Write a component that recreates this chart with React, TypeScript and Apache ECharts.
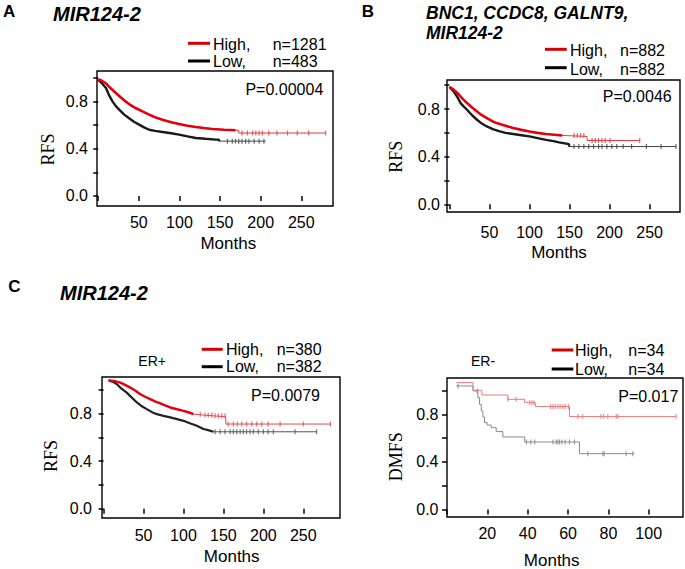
import React, { useEffect, useRef } from "react";
import * as echarts from "echarts";

// ---------- Panel A: MIR124-2 (RFS) ----------
const aHighT = [0, 5, 9.5, 15, 21.7, 28, 34, 40, 46, 55, 62.7, 70, 79, 90, 99.5, 110, 120, 130, 140.5, 155, 169, 173, 173, 280];
const aHighS = [0.99, 0.975, 0.955, 0.915, 0.874, 0.835, 0.8, 0.77, 0.746, 0.715, 0.69, 0.668, 0.647, 0.626, 0.61, 0.596, 0.585, 0.576, 0.568, 0.562, 0.557, 0.557, 0.534, 0.534];
const aLowT = [0, 4, 9.5, 13, 17.7, 22, 25.8, 32, 38, 44, 50.4, 57, 62.7, 70, 79, 90, 99.5, 110, 120, 132, 144.6, 148.6, 148.6, 206];
const aLowS = [0.985, 0.96, 0.916, 0.86, 0.8, 0.76, 0.732, 0.69, 0.66, 0.63, 0.605, 0.58, 0.562, 0.552, 0.543, 0.532, 0.52, 0.505, 0.492, 0.485, 0.478, 0.478, 0.465, 0.465];
const aHighCens = [177, 183.5, 190, 194, 198, 202, 210, 220, 233, 245, 259, 280];
const aLowCens = [159, 165, 169, 173, 177, 181.5, 185.5, 192, 198, 204];

// ---------- Panel B: BNC1, CCDC8, GALNT9, MIR124-2 (RFS) ----------
const bHighT = [0, 5, 9.9, 16, 22, 28, 34.5, 40, 46.8, 53, 59, 70, 79.7, 90, 100, 110, 120.7, 141, 172, 172, 238];
const bHighS = [0.985, 0.965, 0.935, 0.89, 0.85, 0.815, 0.78, 0.75, 0.724, 0.7, 0.682, 0.66, 0.64, 0.625, 0.612, 0.6, 0.59, 0.578, 0.57, 0.536, 0.536];
const bLowT = [0, 5, 10, 14, 18, 22, 28, 34.5, 40, 46.8, 55, 63, 70, 79.7, 90, 100, 110, 120.7, 130, 137, 149.4, 149.4, 283];
const bLowS = [0.985, 0.95, 0.9, 0.85, 0.82, 0.794, 0.75, 0.71, 0.68, 0.654, 0.63, 0.612, 0.6, 0.59, 0.58, 0.57, 0.556, 0.541, 0.53, 0.52, 0.505, 0.485, 0.485];
const bHighCens = [155.6, 159.7, 163.8, 167.9, 178.2, 182.3, 186.3, 190.5, 194.6, 200.7, 237.7];
const bLowCens = [155.6, 161.7, 167.9, 174, 180, 186.3, 190.5, 196.7, 202.8, 209, 217, 227.5, 246, 264.4, 283];

// ---------- Panel C: MIR124-2, ER+ (RFS) ----------
const cHighT = [6.3, 15, 21, 27, 33.4, 40, 46, 52, 58.4, 65, 71, 77, 83.4, 92, 100, 106, 112.5, 125, 137.5, 153, 153, 284];
const cHighS = [1.078, 1.07, 1.059, 1.04, 1.017, 0.99, 0.961, 0.94, 0.92, 0.9, 0.884, 0.867, 0.85, 0.835, 0.822, 0.81, 0.794, 0.786, 0.78, 0.772, 0.711, 0.711];
const cLowT = [6.3, 12, 16.7, 22, 29, 35, 41.7, 48, 54, 60, 66.7, 75, 83.4, 92, 100, 108, 116.7, 125, 131, 137.5, 267];
const cLowS = [1.078, 1.065, 1.045, 1.01, 0.975, 0.935, 0.892, 0.86, 0.836, 0.813, 0.794, 0.78, 0.767, 0.752, 0.738, 0.718, 0.697, 0.669, 0.66, 0.646, 0.646];
const cHighCens = [121, 127, 131, 135.5, 139.6, 143.8, 148, 152, 156, 162.5, 167.5, 173, 179, 185.5, 191.7, 198, 206, 221, 250, 284];
const cLowCens = [139.6, 146, 152, 158.4, 162.5, 166.7, 171, 175, 179, 183.4, 187.5, 193.7, 200, 206, 212.5, 239.6, 266.7];

// ---------- Panel D: MIR124-2, ER- (DMFS) ----------
const dHighT = [4.6, 12.9, 17.3, 30.2, 38.5, 43.8, 60.7, 113.6];
const dHighS = [1.066, 1.002, 0.962, 0.926, 0.898, 0.865, 0.781, 0.781];
const dLowT = [4.6, 12.9, 15.3, 16.1, 17, 17.8, 18.6, 19.9, 21.9, 24.4, 27.7, 38.5, 65.7, 92.9];
const dLowS = [1.038, 0.996, 0.94, 0.884, 0.828, 0.778, 0.73, 0.71, 0.688, 0.655, 0.61, 0.568, 0.47, 0.47];
const dHighCens = [30.2, 34.3, 41, 42.1, 43.1, 51.3, 52.5, 53.7, 55, 56.1, 57.4, 58.6, 60.2, 64.9, 67.3, 76.4, 77.7, 79.7, 83.9, 84.7, 113.6];
const dLowCens = [5.5, 15, 39.4, 41.5, 43.5, 52.5, 54.2, 55, 55.8, 57, 58.6, 60.7, 63.2, 69.8, 77.2, 78, 88.8, 92.1];

// ---------- ticks / labels ----------
const yTickValues = [0, 0.2, 0.4, 0.6, 0.8, 1.0];
const yLabelValues = [0, 0.4, 0.8];
const monthTicks = [0, 50, 100, 150, 200, 250];
const monthLabels = [50, 100, 150, 200, 250];
const erNegTicks = [0, 20, 40, 60, 80, 100];
const erNegLabels = [20, 40, 60, 80, 100];

const SANS = '"Liberation Sans", Arial, Helvetica, sans-serif';
const SERIF = '"Liberation Serif", "Times New Roman", serif';

const pairs = (t: number[], s: number[]) => t.map((x, i) => [x, s[i]]);
const stepAt = (t: number[], s: number[], x: number) => {
  let v = s[0];
  for (let i = 0; i < t.length; i++) if (t[i] <= x) v = s[i];
  return v;
};

type Curve = {
  t: number[];
  s: number[];
  cens: number[];
  thickEnd: number;
  color: string;
  thin: string;
  thickW: number;
  step: boolean;
};

function curveSeries(idx: number, c: Curve) {
  const out: any[] = [];
  out.push({
    type: "line",
    xAxisIndex: idx,
    yAxisIndex: idx,
    data: pairs(c.t, c.s),
    step: c.step ? "end" : false,
    symbol: "none",
    lineStyle: { color: c.thin, width: 1 },
    silent: true,
    z: 2,
  });
  if (c.thickEnd > 0) {
    const tt = c.t.filter((x) => x <= c.thickEnd);
    out.push({
      type: "line",
      xAxisIndex: idx,
      yAxisIndex: idx,
      data: pairs(tt, c.s.slice(0, tt.length)),
      step: c.step ? "end" : false,
      symbol: "none",
      lineStyle: { color: c.color, width: c.thickW },
      silent: true,
      z: 3,
    });
  }
  out.push({
    type: "scatter",
    xAxisIndex: idx,
    yAxisIndex: idx,
    data: c.cens.map((x) => [x, stepAt(c.t, c.s, x)]),
    symbol: "rect",
    symbolSize: [1.2, 5],
    itemStyle: { color: c.thin },
    silent: true,
    z: 4,
  });
  return out;
}

const grids = [
  { left: 97, top: 71, width: 236, height: 135 },
  { left: 447, top: 80, width: 233, height: 132 },
  { left: 102, top: 377, width: 238, height: 141 },
  { left: 447, top: 378, width: 236, height: 139 },
];
const xRanges = [
  [-1.5, 289],
  [-3, 288],
  [-2, 296],
  [0, 117],
];
const yRanges = [
  [-0.085, 1.06],
  [-0.065, 1.044],
  [-0.078, 1.106],
  [-0.062, 1.105],
];
const xOffsets = [2, 4, 0, 1.5];
const xLabelMargins = [6, 8, 9, 7];
const yLabelMargins = [9, 7, 10, 8.5];

function text(x: number, y: number, s: string, font: string, align = "left", rotation = 0) {
  return {
    type: "text",
    x,
    y,
    rotation,
    silent: true,
    style: { text: s, font, fill: "#000", align, verticalAlign: "middle" },
  };
}
function legLine(x1: number, x2: number, y: number, color: string) {
  return {
    type: "line",
    silent: true,
    shape: { x1, y1: y, x2, y2: y },
    style: { stroke: color, lineWidth: 3 },
  };
}

export default function App() {
  const ref = useRef<HTMLDivElement>(null);
  useEffect(() => {
    if (!ref.current) return;
    const chart = echarts.init(ref.current, undefined, { renderer: "svg" });
    const lab16 = `16px ${SANS}`;
    const RED = "#d40000";

    const xAxis = grids.map((_, i) => ({
      type: "value",
      gridIndex: i,
      min: xRanges[i][0],
      max: xRanges[i][1],
      offset: xOffsets[i],
      axisLine: { show: false },
      splitLine: { show: false },
      axisTick: {
        show: true,
        length: 5,
        lineStyle: { color: "#000", width: 1.5 },
        customValues: i === 3 ? erNegTicks : monthTicks,
      },
      axisLabel: {
        show: true,
        margin: xLabelMargins[i],
        color: "#000",
        fontSize: 16,
        fontFamily: SANS,
        customValues: i === 3 ? erNegLabels : monthLabels,
      },
    }));
    const yAxis = grids.map((_, i) => ({
      type: "value",
      gridIndex: i,
      min: yRanges[i][0],
      max: yRanges[i][1],
      axisLine: { show: false },
      splitLine: { show: false },
      axisTick: {
        show: true,
        length: 5,
        lineStyle: { color: "#000", width: 1.5 },
        customValues: yTickValues,
      },
      axisLabel: {
        show: true,
        margin: yLabelMargins[i],
        color: "#000",
        fontSize: 16,
        fontFamily: SANS,
        customValues: yLabelValues,
        formatter: (v: number) => v.toFixed(1),
      },
    }));

    const series = [
      ...curveSeries(0, { t: aLowT, s: aLowS, cens: aLowCens, thickEnd: 149, color: "#1a1a1a", thin: "#444", thickW: 2.4, step: false }),
      ...curveSeries(0, { t: aHighT, s: aHighS, cens: aHighCens, thickEnd: 172, color: "#e3000b", thin: "#e5393f", thickW: 2.6, step: false }),
      ...curveSeries(1, { t: bLowT, s: bLowS, cens: bLowCens, thickEnd: 150, color: "#1a1a1a", thin: "#444", thickW: 2.4, step: false }),
      ...curveSeries(1, { t: bHighT, s: bHighS, cens: bHighCens, thickEnd: 171, color: "#e3000b", thin: "#e5393f", thickW: 2.6, step: false }),
      ...curveSeries(2, { t: cLowT, s: cLowS, cens: cLowCens, thickEnd: 138, color: "#222", thin: "#555", thickW: 2.2, step: false }),
      ...curveSeries(2, { t: cHighT, s: cHighS, cens: cHighCens, thickEnd: 113, color: "#e3000b", thin: "#e54a4f", thickW: 2.4, step: false }),
      ...curveSeries(3, { t: dLowT, s: dLowS, cens: dLowCens, thickEnd: 0, color: "#888", thin: "#8a8a8a", thickW: 1, step: true }),
      ...curveSeries(3, { t: dHighT, s: dHighS, cens: dHighCens, thickEnd: 0, color: "#e87a7a", thin: "#e87a7a", thickW: 1, step: true }),
    ];

    const elements = [
      // Panel A
      text(3, 11, "A", `bold 17px ${SANS}`),
      text(53, 14, "MIR124-2", `italic bold 20px ${SANS}`),
      legLine(188, 210, 43.3, RED),
      legLine(188, 210, 61, "#000"),
      text(213, 44.5, "High,", lab16),
      text(272.7, 44.5, "n=1281", lab16),
      text(213, 61.5, "Low,", lab16),
      text(272.7, 61.5, "n=483", lab16),
      text(323.3, 89, "P=0.00004", lab16, "right"),
      text(47.5, 149.5, "RFS", `18px ${SERIF}`, "center", Math.PI / 2),
      text(228.3, 243, "Months", `17px ${SANS}`, "center"),
      // Panel B
      text(361.7, 11, "B", `bold 17px ${SANS}`),
      text(426, 13, "BNC1, CCDC8, GALNT9,", `italic bold 17.5px ${SANS}`),
      text(426, 33, "MIR124-2", `italic bold 17.5px ${SANS}`),
      legLine(545, 566.7, 49.3, RED),
      legLine(545, 566.7, 67.7, "#000"),
      text(570, 50.5, "High,", lab16),
      text(620, 50.5, "n=882", lab16),
      text(570, 69, "Low,", lab16),
      text(620, 69, "n=882", lab16),
      text(671.7, 96, "P=0.0046", lab16, "right"),
      text(396, 156.7, "RFS", `18px ${SERIF}`, "center", Math.PI / 2),
      text(559, 252, "Months", `17px ${SANS}`, "center"),
      // Panel C
      text(8.3, 286, "C", `bold 17px ${SANS}`),
      text(60, 293, "MIR124-2", `italic bold 20px ${SANS}`),
      text(138.3, 361, "ER+", `14px ${SANS}`),
      legLine(201.7, 222.7, 349.3, RED),
      legLine(201.7, 222.7, 366.7, "#000"),
      text(226, 349.5, "High,", lab16),
      text(276.7, 349.5, "n=380", lab16),
      text(226, 366.5, "Low,", lab16),
      text(276.7, 366.5, "n=382", lab16),
      text(320, 395.5, "P=0.0079", lab16, "right"),
      text(51, 456, "RFS", `18px ${SERIF}`, "center", Math.PI / 2),
      text(231.7, 556, "Months", `17px ${SANS}`, "center"),
      // Panel D
      text(471, 361, "ER-", `14px ${SANS}`),
      legLine(551.7, 573.3, 350, RED),
      legLine(551.7, 573.3, 369, "#000"),
      text(575, 350, "High,", lab16),
      text(628.3, 350, "n=34", lab16),
      text(575, 369, "Low,", lab16),
      text(628.3, 369, "n=34", lab16),
      text(678.3, 396.5, "P=0.017", lab16, "right"),
      text(396, 456.7, "DMFS", `18px ${SERIF}`, "center", Math.PI / 2),
      text(551.7, 560, "Months", `17px ${SANS}`, "center"),
    ];

    chart.setOption({
      animation: false,
      backgroundColor: "#fff",
      grid: grids.map((g) => ({ ...g, show: true, borderColor: "#000", borderWidth: 1.4, backgroundColor: "transparent" })),
      xAxis,
      yAxis,
      series,
      graphic: { elements },
    });
    return () => chart.dispose();
  }, []);
  return <div ref={ref} style={{ position: "fixed", left: 0, top: 0, width: 685, height: 569 }} />;
}
